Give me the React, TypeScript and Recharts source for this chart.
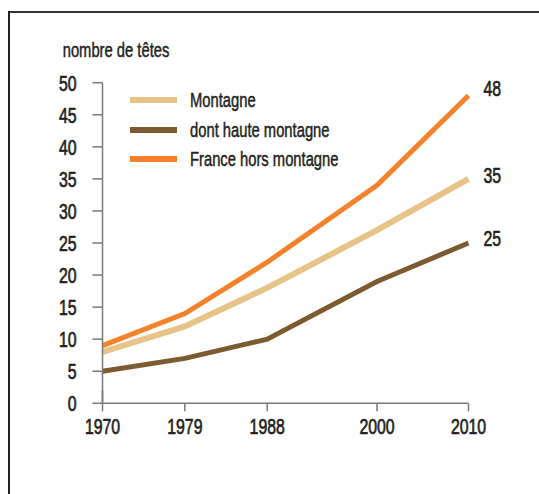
import React from "react";
import { LineChart, Line, XAxis, YAxis, LabelList, ReferenceLine } from "recharts";

const years = [1970, 1979, 1988, 2000, 2010];
const montagne = [8, 12, 18, 27, 35];
const hauteMontagne = [5, 7, 10, 19, 25];
const franceHors = [9, 14, 22, 34, 48];
const yTicks = [0, 5, 10, 15, 20, 25, 30, 35, 40, 45, 50];
const seriesNames = ["Montagne", "dont haute montagne", "France hors montagne"];
const yTitle = "nombre de têtes";

const data = years.map((year, i) => ({
  year,
  montagne: montagne[i],
  haute: hauteMontagne[i],
  france: franceHors[i],
}));

const FONT = '"Liberation Sans", Arial, sans-serif';
const SX = 0.72;
const TEXT = "#231f20";
const AXIS = "#7a7a7a";
const C_MONT = "#e7c387";
const C_HAUTE = "#7d5b31";
const C_FRANCE = "#f5822a";
const seriesColors = [C_MONT, C_HAUTE, C_FRANCE];
const TSTROKE = 0.7;

const XTick = (props: any) => {
  const { x, y, payload } = props;
  return (
    <g transform={`translate(${x},${y})`}>
      <text transform={`scale(${SX},1)`} textAnchor="middle" dy="0.71em" fill={TEXT} stroke={TEXT} strokeWidth={TSTROKE} fontSize={22} fontFamily={FONT}>
        {payload.value}
      </text>
    </g>
  );
};

const YTick = (props: any) => {
  const { x, y, payload } = props;
  return (
    <g transform={`translate(${x},${y})`}>
      <text transform={`scale(${SX},1)`} textAnchor="end" dy="0.355em" fill={TEXT} stroke={TEXT} strokeWidth={TSTROKE} fontSize={22} fontFamily={FONT}>
        {payload.value}
      </text>
    </g>
  );
};

const endLabel = (dyOff: number) => (props: any) => {
  const { x, y, index, value } = props;
  if (index !== years.length - 1) return null;
  return (
    <g transform={`translate(${x + 15},${y + dyOff})`}>
      <text transform={`scale(${SX},1)`} dy="0.355em" fill={TEXT} stroke={TEXT} strokeWidth={TSTROKE} fontSize={22} fontFamily={FONT}>
        {value}
      </text>
    </g>
  );
};

export default function App() {
  return (
    <div style={{ position: "relative", width: 520, height: 478, overflow: "hidden" }}>
      <LineChart
        width={520}
        height={478}
        data={data}
        margin={{ top: 74.7, right: 59.5, bottom: 52.7, left: 34.5 }}
      >
        <XAxis
          type="number"
          dataKey="year"
          domain={[1970, 2010]}
          ticks={years}
          interval={0}
          height={30}
          tickSize={8}
          tickMargin={7}
          axisLine={{ stroke: AXIS, strokeWidth: 1.5 }}
          tickLine={{ stroke: AXIS, strokeWidth: 1.5 }}
          tick={<XTick />}
        />
        <YAxis
          type="number"
          domain={[0, 50]}
          ticks={yTicks}
          interval={0}
          width={60}
          tickSize={10}
          tickMargin={16}
          axisLine={{ stroke: AXIS, strokeWidth: 1.5 }}
          tickLine={{ stroke: AXIS, strokeWidth: 1.5 }}
          tick={<YTick />}
          label={{
            content: () => (
              <g transform="translate(54.7,49)">
                <text transform={`scale(${SX},1)`} fill={TEXT} stroke={TEXT} strokeWidth={0.5} fontSize={20.5} fontFamily={FONT}>
                  {yTitle}
                </text>
              </g>
            ),
          }}
        />
        <ReferenceLine
          segment={[{ x: 1970, y: 0 }, { x: 1970, y: 2 }]}
          stroke="#e8202a"
          strokeWidth={1.5}
        />
        <Line
          type="linear"
          dataKey="montagne"
          name={seriesNames[0]}
          stroke={C_MONT}
          strokeWidth={6}
          dot={false}
          isAnimationActive={false}
        >
          <LabelList dataKey="montagne" content={endLabel(-4)} />
        </Line>
        <Line
          type="linear"
          dataKey="haute"
          name={seriesNames[1]}
          stroke={C_HAUTE}
          strokeWidth={5}
          dot={false}
          isAnimationActive={false}
        >
          <LabelList dataKey="haute" content={endLabel(-5)} />
        </Line>
        <Line
          type="linear"
          dataKey="france"
          name={seriesNames[2]}
          stroke={C_FRANCE}
          strokeWidth={5}
          dot={false}
          isAnimationActive={false}
        >
          <LabelList dataKey="france" content={endLabel(-7)} />
        </Line>
      </LineChart>
      <div style={{ position: "fixed", left: 8, top: 11, width: 531, height: 1.5, background: "#333" }} />
      <div style={{ position: "fixed", left: 8, top: 11, width: 1.7, height: 483, background: "#222" }} />
      <div style={{ position: "absolute", left: 122, top: 77.5, fontFamily: FONT }}>
        {seriesNames.map((name, i) => (
          <div key={name} style={{ display: "flex", alignItems: "center", height: 29.5, whiteSpace: "nowrap" }}>
            <div style={{ width: 47, height: 6, background: seriesColors[i], marginRight: 13, flexShrink: 0 }} />
            <span
              style={{
                display: "inline-block",
                fontSize: 20.5,
                lineHeight: "22px",
                color: TEXT,
                WebkitTextStroke: "0.5px " + TEXT,
                transform: `scaleX(${SX})`,
                transformOrigin: "left center",
              }}
            >
              {name}
            </span>
          </div>
        ))}
      </div>
    </div>
  );
}
